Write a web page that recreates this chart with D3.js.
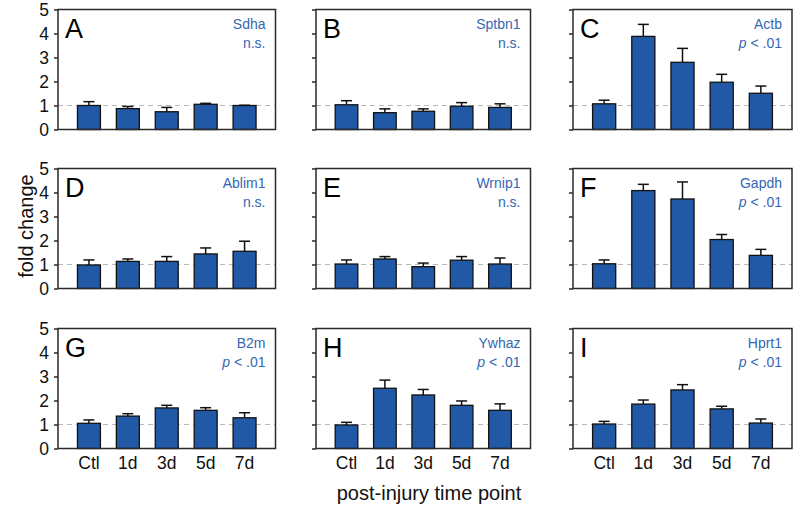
<!DOCTYPE html>
<html><head><meta charset="utf-8">
<script src="https://cdn.jsdelivr.net/npm/d3@7"></script>
<style>body{margin:0;background:#fff}svg{display:block}text{font-family:"Liberation Sans",Arial,sans-serif}</style>
</head><body><svg id="c" width="800" height="508"></svg>
<script>
const categories = ["Ctl","1d","3d","5d","7d"];
const yTicks = [0,1,2,3,4,5];
const letters = ["A","B","C","D","E","F","G","H","I"];
const genes = ["Sdha","Sptbn1","Actb","Ablim1","Wrnip1","Gapdh","B2m","Ywhaz","Hprt1"];
const stats = ["n.s.","n.s.","p","n.s.","n.s.","p","p","p","p"];
const means = [
  [1.00,0.87,0.74,1.05,1.00],
  [1.03,0.70,0.76,0.97,0.92],
  [1.07,3.88,2.80,1.97,1.51],
  [0.98,1.13,1.13,1.44,1.55],
  [1.02,1.23,0.91,1.18,1.02],
  [1.03,4.08,3.73,2.04,1.38],
  [1.05,1.35,1.69,1.59,1.28],
  [0.98,2.51,2.23,1.80,1.59],
  [1.02,1.85,2.44,1.65,1.06]
];
const errTops = [
  [1.16,0.96,0.92,1.09,1.01],
  [1.20,0.86,0.86,1.12,1.07],
  [1.22,4.38,3.38,2.30,1.81],
  [1.19,1.23,1.33,1.69,1.97],
  [1.19,1.33,1.06,1.33,1.27],
  [1.19,4.34,4.44,2.25,1.63],
  [1.19,1.45,1.80,1.70,1.49],
  [1.09,2.85,2.46,1.98,1.86],
  [1.13,2.02,2.66,1.76,1.23]
];

const svg = d3.select("#c");
const lefts = [58,316,573], rights = [275.5,530.5,792];
const tops = [9.5,168.5,328.5], bottoms = [129.5,288.5,448.5];
const barFill = "#2159a6", labelCol = "#3567b2", frameCol = "#2a2a2a";

for (let i = 0; i < 9; i++) {
  const col = i % 3, row = Math.floor(i / 3);
  const x = d3.scaleBand().domain(categories).range([lefts[col], rights[col]]).paddingInner(0.41).paddingOuter(0.5);
  const y = d3.scaleLinear().domain([0,5]).range([bottoms[row], tops[row]]);
  const g = svg.append("g");
  const data = categories.map((c,k) => ({c, v: means[i][k], e: errTops[i][k]}));

  g.append("line").attr("x1", lefts[col]).attr("x2", rights[col])
    .attr("y1", y(1)).attr("y2", y(1))
    .attr("stroke", "#b8b8b8").attr("stroke-width", 1.2).attr("stroke-dasharray", "5,4");

  const eb = g.selectAll(".eb").data(data).join("g");
  eb.append("line").attr("x1", d => x(d.c) + x.bandwidth()/2).attr("x2", d => x(d.c) + x.bandwidth()/2)
    .attr("y1", d => y(d.v)).attr("y2", d => y(d.e)).attr("stroke", "#111").attr("stroke-width", 1.5);
  eb.append("line").attr("x1", d => x(d.c) + x.bandwidth()/2 - 5.5).attr("x2", d => x(d.c) + x.bandwidth()/2 + 5.5)
    .attr("y1", d => y(d.e)).attr("y2", d => y(d.e)).attr("stroke", "#111").attr("stroke-width", 1.5);

  g.selectAll(".bar").data(data).join("rect")
    .attr("x", d => x(d.c)).attr("width", x.bandwidth())
    .attr("y", d => y(d.v)).attr("height", d => y(0) - y(d.v))
    .attr("fill", barFill).attr("stroke", "#111").attr("stroke-width", 1.3);

  g.append("rect").attr("x", lefts[col]).attr("y", tops[row])
    .attr("width", rights[col] - lefts[col]).attr("height", bottoms[row] - tops[row])
    .attr("fill", "none").attr("stroke", frameCol).attr("stroke-width", 1.5);

  const ya = d3.axisLeft(y).tickValues(yTicks).tickSize(4).tickPadding(5)
    .tickFormat(col === 0 ? d3.format("d") : () => "");
  const yg = g.append("g").attr("transform", `translate(${lefts[col]},0)`).call(ya);
  yg.select(".domain").remove();
  yg.selectAll("line").attr("stroke", frameCol).attr("stroke-width", 1.5);
  yg.selectAll("text").attr("font-size", 17.5).attr("fill", "#111").attr("font-family", "Liberation Sans, Arial, sans-serif");

  if (row === 2) {
    const xa = d3.axisBottom(x).tickSize(0).tickPadding(8);
    const xg = g.append("g").attr("transform", `translate(0,${bottoms[row]})`).call(xa);
    xg.select(".domain").remove();
    xg.selectAll("text").attr("font-size", 17.5).attr("fill", "#111").attr("font-family", "Liberation Sans, Arial, sans-serif");
  }

  g.append("text").attr("x", lefts[col] + 7).attr("y", tops[row] + 28)
    .attr("font-size", 27).attr("fill", "#000").text(letters[i]);

  g.append("text").attr("x", rights[col] - 10).attr("y", tops[row] + 19)
    .attr("text-anchor", "end").attr("font-size", 14).attr("fill", labelCol).text(genes[i]);
  const st = g.append("text").attr("x", rights[col] - 10).attr("y", tops[row] + 38.5)
    .attr("text-anchor", "end").attr("font-size", 14).attr("fill", labelCol);
  if (stats[i] === "p") {
    st.append("tspan").attr("font-style", "italic").text("p");
    st.append("tspan").text(" < .01");
  } else st.text(stats[i]);
}

svg.append("text").attr("transform", "translate(33,226) rotate(-90)")
  .attr("text-anchor", "middle").attr("font-size", 20).attr("fill", "#111").text("fold change");
svg.append("text").attr("x", 429).attr("y", 500)
  .attr("text-anchor", "middle").attr("font-size", 20).attr("fill", "#111").text("post-injury time point");
</script></body></html>
